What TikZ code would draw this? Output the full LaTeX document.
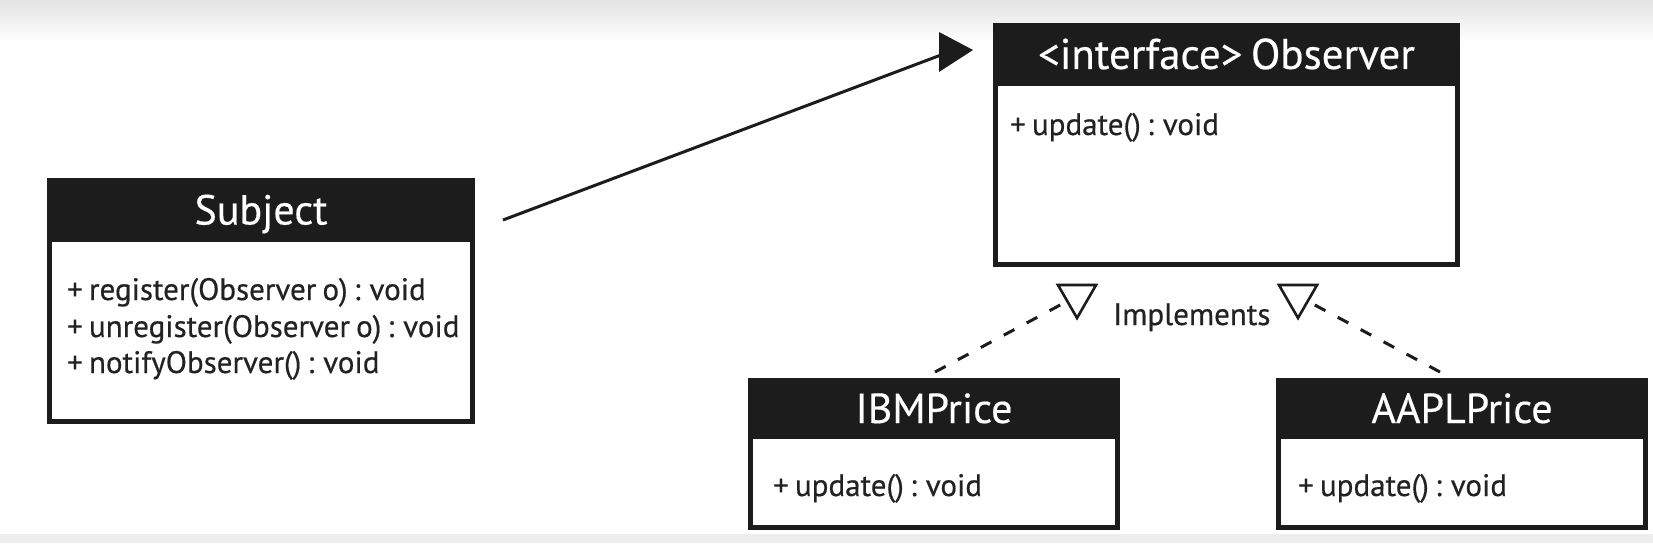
\documentclass[tikz,border=0pt]{standalone}
\usepackage{fontspec}
\setmainfont{PT Sans}
\newfontfamily\umlfont[FakeBold=0.5]{PT Sans}
\newfontfamily\headfont[FakeBold=0.4]{PT Sans}
\newcommand\tightspaces{\spaceskip=0.2em plus 0.05em\relax}
\usetikzlibrary{shapes.geometric,calc}
\definecolor{ink}{HTML}{1C1C1C}
\definecolor{txt}{HTML}{222222}
\begin{document}
\begin{tikzpicture}[x=1pt,y=-1pt,
  frame/.style={draw=ink, fill=white, line width=5pt, inner sep=0pt, rectangle},
  head/.style={fill=ink, inner sep=0pt, text=white, text depth=0pt},
  member/.style={anchor=base west, inner sep=0pt, text=txt,
     font=\umlfont\fontsize{31}{36}\selectfont, execute at begin node=\tightspaces},
  realize/.style={draw=ink, line width=3pt, dash pattern=on 12pt off 14pt},
  hollowtri/.style={regular polygon, regular polygon sides=3, shape border rotate=180,
     minimum size=44pt, draw=ink, line width=2.6pt, inner sep=0pt, fill=white},
  assoc/.style={draw=ink, line width=3pt}
]
\useasboundingbox (0,0) rectangle (1653,543);
\fill[white] (0,0) rectangle (1653,543);
\shade[top color=black!11, bottom color=white] (0,0) rectangle (1653,42);
\fill[black!7] (0,534) rectangle (1653,543);

% Subject
\node[frame, minimum width=423pt, minimum height=241pt] (subj) at (261,301) {};
\node[head, minimum width=428pt, minimum height=64pt, text height=29pt,
      font=\headfont\fontsize{42}{42}\selectfont] (subjhead) at (261,210) {Subject};
\node[member] (subjm1) at (67,300) {+ register(Observer o) : void};
\node[member] (subjm2) at (67,337) {+ unregister(Observer o) : void};
\node[member] (subjm3) at (67,373) {+ notifyObserver() : void};

% Observer
\node[frame, minimum width=462pt, minimum height=239pt] (obs) at (1226.5,145) {};
\node[head, minimum width=467pt, minimum height=63pt, text height=29pt,
      font=\headfont\fontsize{43}{43}\selectfont, execute at begin node=\tightspaces] (obshead) at (1226.5,54.5) {<interface> Observer};
\node[member] (obsm1) at (1010,135) {+ update() : void};

% IBMPrice
\node[frame, minimum width=367pt, minimum height=147pt] (ibm) at (934,454) {};
\node[head, minimum width=372pt, minimum height=61pt, text height=29pt,
      font=\headfont\fontsize{42}{42}\selectfont] (ibmhead) at (934,408.5) {IBMPrice};
\node[member] (ibmm1) at (773,496) {+ update() : void};

% AAPLPrice
\node[frame, minimum width=367pt, minimum height=147pt] (aapl) at (1462,454) {};
\node[head, minimum width=372pt, minimum height=61pt, text height=29pt,
      font=\headfont\fontsize{42}{42}\selectfont] (aaplhead) at (1462,408.5) {AAPLPrice};
\node[member] (aaplm1) at (1298,496) {+ update() : void};

% realization markers
\node[hollowtri] (tri1) at (1077,296) {};
\node[hollowtri] (tri2) at (1298,296) {};
\node[anchor=base west, inner sep=0pt, text=txt, font=\umlfont\fontsize{31}{31}\selectfont]
  (impl) at (1113,325) {Implements};

\coordinate (ibmtop) at (935,372);
\coordinate (aapltop) at (1440,372);
\draw[realize] (ibmtop) -- (tri1);
\draw[realize] (aapltop) -- (tri2);

% association arrow
\coordinate (arrstart) at (503,220);
\coordinate (arrtip) at (973,50);
\coordinate (arrbase) at (941,55);
\draw[assoc] (arrstart) -- (arrbase);
\fill[ink] (arrtip) -- ++(-34,-18) -- ++(0,40) -- cycle;
\end{tikzpicture}
\end{document}
